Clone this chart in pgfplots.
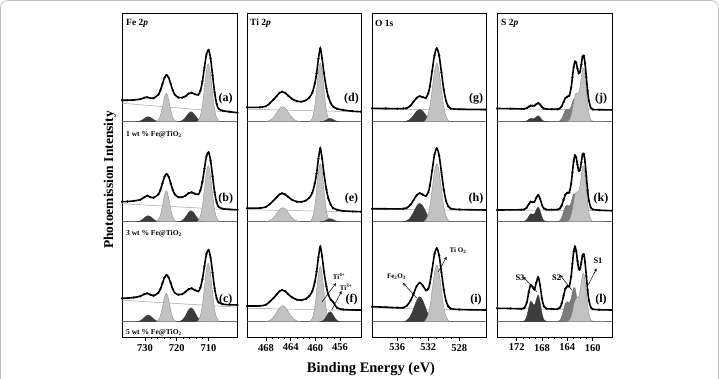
\documentclass[border=0pt]{standalone}
\usepackage{pgfplots}
\usepackage{pgfplotstable}
\pgfplotsset{compat=1.18}
\usepackage{fontspec}
\setmainfont{Liberation Serif}

\definecolor{lgray}{HTML}{C2C2C2}
\definecolor{dgray}{HTML}{3C3C3C}
\definecolor{mgray}{HTML}{7C7C7C}

% ---------------- Fe 2p ----------------
\pgfplotstableread{
x a b c
732.9 0 0 0
732.25 0.22 0.26 0.29
731.6 0.68 0.81 0.91
730.95 1.62 1.95 2.18
730.3 3.03 3.64 4.06
729.65 4.41 5.30 5.91
729.0 5 6 6.7
728.35 4.41 5.30 5.91
727.7 3.03 3.64 4.06
727.05 1.62 1.95 2.18
726.4 0.68 0.81 0.91
725.75 0.22 0.26 0.29
725.1 0 0 0
}\FeDone
\pgfplotstableread{
x a b c
726.45 0 0 0
725.925 1.25 1.36 1.25
725.4 3.86 4.19 3.84
724.875 9.25 10.07 9.22
724.35 17.29 18.80 17.22
723.825 25.15 27.36 25.06
723.3 28.5 31 28.4
722.775 25.15 27.36 25.06
722.25 17.29 18.80 17.22
721.725 9.25 10.07 9.22
721.2 3.86 4.19 3.84
720.675 1.25 1.36 1.25
720.15 0 0 0
}\FeGone
\pgfplotstableread{
x a b c
719.55 0 0 0
718.875 0.44 0.48 0.61
718.2 1.35 1.49 1.89
717.525 3.25 3.57 4.55
716.85 6.07 6.67 8.49
716.175 8.83 9.71 12.36
715.5 10 11 14
714.825 8.83 9.71 12.36
714.15 6.07 6.67 8.49
713.475 3.25 3.57 4.55
712.8 1.35 1.49 1.89
712.125 0.44 0.48 0.61
711.45 0 0 0
}\FeDtwo
\pgfplotstableread{
x a b c
713.55 0 0 0
712.975 2.55 2.46 2.56
712.4 7.85 7.58 7.90
711.825 18.83 18.18 18.96
711.25 35.18 33.96 35.42
710.675 51.19 49.42 51.54
710.1 58 56 58.4
709.525 51.19 49.42 51.54
708.95 35.18 33.96 35.42
708.375 18.83 18.18 18.96
707.8 7.85 7.58 7.90
707.225 2.55 2.46 2.56
706.65 0 0 0
}\FeGtwo
\pgfplotstableread{
x a b c
737.24 21.5 20 23.4
735.5 21.5 20.2 23.6
733.5 21.8 20.8 24.2
731.5 22.5 22 25.5
730.2 24 24.5 27.6
729.3 24.5 26 28.4
728.3 23.5 24.5 27
727.3 23.5 24 26
725.8 27.1 27.4 28.8
725.15 31.4 31.8 32.6
724.5 37.8 38.4 38.6
723.85 44 44.9 44.2
723.2 46.7 47.7 46.7
722.55 44 44.9 44.2
721.9 37.8 38.4 38.6
721.25 31.4 31.8 32.6
720.6 27.1 27.4 28.8
719.5 24.2 24.5 27
718.3 24 24.5 27.5
717.2 25.5 26 30
716.3 28 28.5 32.5
715.3 29 29.4 33.4
714.3 27.5 28 31.5
713.2 27 27.5 30.5
712.56 31 31.5 34
711.92 40.4 40 42.5
711.28 54.4 53 55.5
710.64 67.5 65.5 67.8
710.0 71.7 69.4 71.7
709.36 63.5 61.5 64.5
708.72 46.4 45.5 49
708.08 29.4 29.5 33.5
707.44 17.9 19.5 23.5
706.8 12.8 14.8 19.3
705.5 11 13 17.5
703.5 10 12.3 17
700.87 9 12 16.7
}\FeEnv
\pgfplotstableread{
x a b c
737.24 18.5 18 21.5
700.87 8.8 11.5 14.5
}\FeBg

% ---------------- Ti 2p ----------------
\pgfplotstableread{
x a b c
468.15 0 0 0
467.675 0.66 0.61 0.70
467.2 2.03 1.89 2.16
466.725 4.87 4.55 5.20
466.25 9.10 8.49 9.70
465.775 13.24 12.36 14.12
465.3 15 14 16
464.825 13.24 12.36 14.12
464.35 9.10 8.49 9.70
463.875 4.87 4.55 5.20
463.4 2.03 1.89 2.16
462.925 0.66 0.61 0.70
462.45 0 0 0
}\TiGa
\pgfplotstableread{
x a b c
460.85 0 0 0
460.575 2.56 2.55 2.41
460.3 7.90 7.85 7.44
460.025 18.96 18.83 17.86
459.75 35.42 35.18 33.36
459.475 51.54 51.19 48.54
459.2 58.4 58 55
458.925 51.54 51.19 48.54
458.65 35.42 35.18 33.36
458.375 18.96 18.83 17.86
458.1 7.90 7.85 7.44
457.825 2.56 2.55 2.41
457.55 0 0 0
}\TiGb
\pgfplotstableread{
x a b c
459.25 0 0 0
458.975 0.14 0.13 0.44
458.7 0.45 0.41 1.35
458.425 1.07 0.97 3.25
458.15 2.0 1.82 6.07
457.875 2.91 2.65 8.83
457.6 3.3 3 10
457.325 2.91 2.65 8.83
457.05 2.0 1.82 6.07
456.775 1.07 0.97 3.25
456.5 0.45 0.41 1.35
456.225 0.14 0.13 0.44
455.95 0 0 0
}\TiD
\pgfplotstableread{
x a b c
471.08 14.4 13.4 15.7
469 14.4 13.6 15.8
468 15.5 14.8 17
467.4 18.4 17.5 20
466.8 22 21 23.5
466.3 25.5 24.3 27
465.8 28.8 27.3 30.5
465.4 30 28.4 31.7
464.9 28.8 27.3 30.5
464.4 26 24.8 27.5
463.8 23 22 24.5
463 20.5 20 22
462.3 20 19.8 21.5
461.5 21.5 21.3 23
461 24 23.8 25.5
460.5 29 28.8 30.5
460.1 38 38 39.5
459.8 48.4 48.4 50
459.5 63 63 64.5
459.2 73.4 73.4 75
458.9 63 63 65
458.6 48.4 48 50
458.2 33 32 35
457.9 25 23.5 27
457.5 18.5 17 22.3
457.1 15 13.5 19.5
456.5 13 12 14
455.5 11.7 10.8 12.2
454 10.5 10.3 11.8
452.6 10 10 11.7
}\TiEnv
\pgfplotstableread{
x a b c
471.08 12.5 12 13.5
452.6 9.8 9.8 11
}\TiBg

% ---------------- O 1s ----------------
\pgfplotstableread{
x a b c
532.55 0 0 0
532.275 2.56 2.55 2.49
532.0 7.90 7.85 7.67
531.725 18.96 18.83 18.41
531.45 35.42 35.18 34.39
531.175 51.54 51.19 50.04
530.9 58.4 58 56.7
530.625 51.54 51.19 50.04
530.35 35.42 35.18 34.39
530.075 18.96 18.83 18.41
529.8 7.90 7.85 7.67
529.525 2.56 2.55 2.49
529.25 0 0 0
}\OMain
\pgfplotstableread{
x a b c
535.2 0 0 0
534.85 0.54 0.81 1.10
534.5 1.68 2.49 3.38
534.15 4.03 5.97 8.12
533.8 7.52 11.16 15.16
533.45 10.94 16.24 22.06
533.1 12.4 18.4 25
532.75 10.94 16.24 22.06
532.4 7.52 11.16 15.16
532.05 4.03 5.97 8.12
531.7 1.68 2.49 3.38
531.35 0.54 0.81 1.10
531.0 0 0 0
}\ODark
\pgfplotstableread{
x a b c
539.26 13.4 13 15
537.5 13.2 12.9 14.5
536 13 12.8 14
535.2 13.2 13 14
534.8 13.5 13.7 15.7
534.3 16.1 16.9 20.9
533.9 19.9 21.6 27.9
533.5 23.8 26.4 35.5
533.1 25.5 28.5 38.9
532.7 24.5 27.1 36.2
532.3 23.9 25.6 31.3
532.0 28.4 29.4 33
531.8 35.1 35.9 38.3
531.5 50.7 51.1 52.4
531.2 66.5 66.9 67.6
530.9 73.4 73.4 73.4
530.6 66.2 66.2 66.2
530.3 49.4 49.4 49.4
530.0 32.2 32.2 32.2
529.7 20.7 20.7 20.7
529.4 15.1 15.1 15.1
529.1 13.1 13.1 13.1
528 12.5 12.2 12.2
524.55 12.2 11.7 11.7
}\OEnv
\pgfplotstableread{
x a b c
539.26 12.5 12.5 13.8
524.55 11.5 11.2 11.2
}\OBg

% ---------------- S 2p ----------------
\pgfplotstableread{
x a b c
171.5 0 0 0
170.8 0.11 0.25 0.65
170.4 0.88 2.08 5.4
170.1 2.25 5.33 13.8
169.8 3.33 7.90 20.3
169.5 3.19 7.59 18.7
169.2 3.2 7.78 16.4
168.9 4.8 11.84 22.1
168.6 5.95 14.72 26.8
168.3 4.45 11.02 20.0
168.0 1.92 4.75 8.6
167.7 0.47 1.17 2.1
167.3 0.03 0.07 0.14
167.0 0 0 0
}\SDark
\pgfplotstableread{
x a b c
166.0 0 0 0
165.6 0.07 0.09 0.11
165.2 0.79 1.05 1.27
164.9 2.99 3.98 4.81
164.6 7.28 9.71 11.72
164.3 11.53 15.36 18.53
164.0 12.49 16.55 19.99
163.7 11.94 15.48 18.79
163.4 15.19 19.10 23.33
163.2 19.40 24.16 29.55
163.0 22.51 27.93 34.20
162.8 22.18 27.50 33.67
162.6 18.13 22.47 27.52
162.4 12.20 15.12 18.52
162.2 6.73 8.34 10.22
162.0 3.05 3.78 4.63
161.8 1.14 1.41 1.73
161.6 0.35 0.43 0.53
161.4 0.09 0.11 0.13
161.1 0 0 0
}\SMed
\pgfplotstableread{
x a b c
164.3 0 0 0
164.0 0.30 0.31 0.24
163.7 1.76 1.82 1.45
163.4 6.65 6.90 5.48
163.2 12.66 13.13 10.43
163.0 19.87 20.62 16.39
162.8 25.85 26.82 21.34
162.6 28.57 29.64 23.70
162.4 28.65 29.73 24.03
162.2 29.51 30.63 25.30
162.0 34.71 36.06 30.49
161.8 43.95 45.66 39.17
161.6 52.28 54.32 46.86
161.4 53.64 55.75 48.17
161.2 45.91 47.72 41.26
161.0 32.41 33.69 29.14
160.8 18.80 19.54 16.90
160.6 8.97 9.32 8.06
160.3 2.03 2.11 1.83
160.0 0.6 0.6 0.6
159.5 0.4 0.4 0.5
158.5 0.15 0.15 0.2
158.0 0 0 0
}\SLight
\pgfplotstableread{
x a b c
175.1 13.2 11.7 13.4
173 13 11.8 13.2
171.2 12.8 12 12.9
170.8 12.9 12.25 13.6
170.4 13.6 14.1 19.2
170.1 14.95 17.3 29.1
169.8 16.0 19.9 36.75
169.5 15.9 19.6 34.9
169.2 15.9 19.8 32.2
168.9 17.5 23.8 38.9
168.6 18.65 26.7 44.4
168.3 17.15 23.0 36.4
168.0 14.6 16.75 23.0
167.7 13.15 13.2 15.4
167.3 12.7 12.1 13.0
166.5 12.5 12 12.8
165.6 12.4 12.1 12.6
165.2 13.1 13.05 13.9
164.9 15.3 16.0 17.9
164.6 19.6 21.7 25.8
164.3 23.65 27.1 33.2
164.0 25.0 28.9 35.45
163.7 25.9 29.3 35.45
163.4 34.0 38.0 45.2
163.2 44.3 49.3 57.9
163.0 54.6 60.5 69.9
162.8 60.2 66.3 75.0
162.6 58.9 64.1 70.6
162.4 53.0 56.9 60.8
162.2 48.4 51.0 52.8
162.0 49.9 51.8 52.35
161.8 57.2 59.1 58.9
161.6 64.8 66.75 66.3
161.4 65.9 67.9 67.35
161.2 58.0 59.7 59.3
161.0 44.5 45.7 45.5
160.8 30.9 31.5 31.6
160.6 21.0 21.3 21.5
160.3 14.0 14.1 14.4
160.0 12.3 12.3 12.6
159 12 11.5 12
156.95 11.8 11 11.7
}\SEnv
\pgfplotstableread{
x a b c
175.1 13 11.8 13.2
156.95 11.6 11 11.5
}\SBg

\pgfplotsset{
  xps/.style={scale only axis, height=324pt, ymin=0, ymax=324, x dir=reverse,
    ytick=\empty, xtick pos=bottom, tick align=outside,
    major tick length=3.5pt, minor tick length=2pt,
    axis line style={line width=0.8pt},
    every tick/.append style={black, line width=0.6pt},
    tick label style={font=\fontsize{10.5}{12}\selectfont\bfseries},
    /pgf/number format/assume math mode=true,
    anchor=south west},
  env/.style={black, line width=1.6pt, smooth, mark=*, mark size=1.0pt,
    mark options={line width=0.2pt, fill=black}},
  lc/.style={fill=lgray, draw=gray, line width=0.3pt, smooth},
  dc/.style={fill=dgray, draw=dgray, line width=0.3pt, smooth},
  mc/.style={fill=mgray, draw=mgray!80!black, line width=0.3pt, smooth},
  bgl/.style={gray!75, line width=0.5pt},
  basel/.style={black!60, line width=0.7pt},
  o1/.style={yshift=215.3pt}, o2/.style={yshift=115.3pt}, o3/.style={yshift=15.3pt},
}

\begin{document}
\begin{tikzpicture}[x=1pt,y=1pt]
\useasboundingbox (0,0) rectangle (719,378);
\draw[gray!50, line width=0.7pt, rounded corners=7pt] (0.5,-20) -- (0.5,377.4) -- (718.4,377.4) -- (718.4,-20);

% ===== Fe =====
\begin{axis}[xps, at={(122pt,41pt)}, width=115.5pt, xmin=700.87, xmax=737.24,
  xtick={710,720,730}, minor x tick num=4]
\addplot[basel,o1] coordinates {(760,0) (690,0)};
\addplot[basel,o2] coordinates {(760,0) (690,0)};
\addplot[basel,o3] coordinates {(760,0) (690,0)};
\addplot[bgl,o1] table[x=x,y=a] {\FeBg};
\addplot[bgl,o2] table[x=x,y=b] {\FeBg};
\addplot[bgl,o3] table[x=x,y=c] {\FeBg};
\addplot[dc,o1] table[x=x,y=a] {\FeDone} \closedcycle;
\addplot[dc,o2] table[x=x,y=b] {\FeDone} \closedcycle;
\addplot[dc,o3] table[x=x,y=c] {\FeDone} \closedcycle;
\addplot[lc,o1] table[x=x,y=a] {\FeGone} \closedcycle;
\addplot[lc,o2] table[x=x,y=b] {\FeGone} \closedcycle;
\addplot[lc,o3] table[x=x,y=c] {\FeGone} \closedcycle;
\addplot[dc,o1] table[x=x,y=a] {\FeDtwo} \closedcycle;
\addplot[dc,o2] table[x=x,y=b] {\FeDtwo} \closedcycle;
\addplot[dc,o3] table[x=x,y=c] {\FeDtwo} \closedcycle;
\addplot[lc,o1] table[x=x,y=a] {\FeGtwo} \closedcycle;
\addplot[lc,o2] table[x=x,y=b] {\FeGtwo} \closedcycle;
\addplot[lc,o3] table[x=x,y=c] {\FeGtwo} \closedcycle;
\addplot[env,o1] table[x=x,y=a] {\FeEnv};
\addplot[env,o2] table[x=x,y=b] {\FeEnv};
\addplot[env,o3] table[x=x,y=c] {\FeEnv};
\end{axis}

% ===== Ti =====
\begin{axis}[xps, at={(247pt,41pt)}, width=114pt, xmin=452.6, xmax=471.08,
  xtick={456,460,464,468}, minor x tick num=3]
\addplot[basel,o1] coordinates {(480,0) (440,0)};
\addplot[basel,o2] coordinates {(480,0) (440,0)};
\addplot[basel,o3] coordinates {(480,0) (440,0)};
\addplot[bgl,o1] table[x=x,y=a] {\TiBg};
\addplot[bgl,o2] table[x=x,y=b] {\TiBg};
\addplot[bgl,o3] table[x=x,y=c] {\TiBg};
\addplot[lc,o1] table[x=x,y=a] {\TiGa} \closedcycle;
\addplot[lc,o2] table[x=x,y=b] {\TiGa} \closedcycle;
\addplot[lc,o3] table[x=x,y=c] {\TiGa} \closedcycle;
\addplot[lc,o1] table[x=x,y=a] {\TiGb} \closedcycle;
\addplot[lc,o2] table[x=x,y=b] {\TiGb} \closedcycle;
\addplot[lc,o3] table[x=x,y=c] {\TiGb} \closedcycle;
\addplot[dc,o1] table[x=x,y=a] {\TiD} \closedcycle;
\addplot[dc,o2] table[x=x,y=b] {\TiD} \closedcycle;
\addplot[dc,o3] table[x=x,y=c] {\TiD} \closedcycle;
\addplot[env,o1] table[x=x,y=a] {\TiEnv};
\addplot[env,o2] table[x=x,y=b] {\TiEnv};
\addplot[env,o3] table[x=x,y=c] {\TiEnv};
\end{axis}

% ===== O =====
\begin{axis}[xps, at={(372pt,41pt)}, width=114pt, xmin=524.55, xmax=539.26,
  xtick={528,532,536}, minor x tick num=3]
\addplot[basel,o1] coordinates {(545,0) (520,0)};
\addplot[basel,o2] coordinates {(545,0) (520,0)};
\addplot[basel,o3] coordinates {(545,0) (520,0)};
\addplot[bgl,o1] table[x=x,y=a] {\OBg};
\addplot[bgl,o2] table[x=x,y=b] {\OBg};
\addplot[bgl,o3] table[x=x,y=c] {\OBg};
\addplot[dc,o1] table[x=x,y=a] {\ODark} \closedcycle;
\addplot[dc,o2] table[x=x,y=b] {\ODark} \closedcycle;
\addplot[dc,o3] table[x=x,y=c] {\ODark} \closedcycle;
\addplot[lc,o1] table[x=x,y=a] {\OMain} \closedcycle;
\addplot[lc,o2] table[x=x,y=b] {\OMain} \closedcycle;
\addplot[lc,o3] table[x=x,y=c] {\OMain} \closedcycle;
\addplot[env,o1] table[x=x,y=a] {\OEnv};
\addplot[env,o2] table[x=x,y=b] {\OEnv};
\addplot[env,o3] table[x=x,y=c] {\OEnv};
\end{axis}

% ===== S =====
\begin{axis}[xps, at={(497pt,41pt)}, width=115pt, xmin=156.95, xmax=175.1,
  xtick={160,164,168,172}, minor x tick num=3]
\addplot[basel,o1] coordinates {(180,0) (150,0)};
\addplot[basel,o2] coordinates {(180,0) (150,0)};
\addplot[basel,o3] coordinates {(180,0) (150,0)};
\addplot[bgl,o1] table[x=x,y=a] {\SBg};
\addplot[bgl,o2] table[x=x,y=b] {\SBg};
\addplot[bgl,o3] table[x=x,y=c] {\SBg};
\addplot[dc,o1] table[x=x,y=a] {\SDark} \closedcycle;
\addplot[dc,o2] table[x=x,y=b] {\SDark} \closedcycle;
\addplot[dc,o3] table[x=x,y=c] {\SDark} \closedcycle;
\addplot[mc,o1] table[x=x,y=a] {\SMed} \closedcycle;
\addplot[mc,o2] table[x=x,y=b] {\SMed} \closedcycle;
\addplot[mc,o3] table[x=x,y=c] {\SMed} \closedcycle;
\addplot[lc,o1] table[x=x,y=a] {\SLight} \closedcycle;
\addplot[lc,o2] table[x=x,y=b] {\SLight} \closedcycle;
\addplot[lc,o3] table[x=x,y=c] {\SLight} \closedcycle;
\addplot[env,o1] table[x=x,y=a] {\SEnv};
\addplot[env,o2] table[x=x,y=b] {\SEnv};
\addplot[env,o3] table[x=x,y=c] {\SEnv};
\end{axis}

% ===== texts =====
\node[rotate=90, font=\fontsize{13.5}{15}\selectfont\bfseries] at (110,198) {Photoemission Intensity};
\node[font=\fontsize{14.5}{16}\selectfont\bfseries] at (371,9) {Binding Energy (eV)};

\begin{scope}[every node/.style={anchor=west, font=\fontsize{9.5}{11}\selectfont\bfseries, inner sep=0pt}]
\node at (126,354.5) {Fe 2\textit{p}};
\node at (250,354.5) {Ti 2\textit{p}};
\node at (375,354.5) {O 1s};
\node at (501,354.5) {S 2\textit{p}};
\end{scope}

\begin{scope}[every node/.style={anchor=west, font=\fontsize{7.5}{9}\selectfont\bfseries, inner sep=0pt}]
\node at (126,243.5) {1 wt \% Fe@TiO\textsubscript{2}};
\node at (126,144.5) {3 wt \% Fe@TiO\textsubscript{2}};
\node at (126,45.5) {5 wt \% Fe@TiO\textsubscript{2}};
\end{scope}

\begin{scope}[every node/.style={font=\fontsize{12}{14}\selectfont\bfseries, inner sep=0pt}]
\node at (225.7,279.3) {(a)};
\node at (225.7,179.5) {(b)};
\node at (225.7,78.5) {(c)};
\node at (351.5,279.3) {(d)};
\node at (351.5,179.5) {(e)};
\node at (351.5,78.5) {(f)};
\node at (476,279.3) {(g)};
\node at (476,179.5) {(h)};
\node at (476,78.5) {(i)};
\node at (601,279.3) {(j)};
\node at (601,179.5) {(k)};
\node at (601,78.5) {(l)};
\end{scope}

\begin{scope}[every node/.style={font=\fontsize{7}{8}\selectfont\bfseries, inner sep=0pt}]
\node at (339,102) {Ti\textsuperscript{4+}};
\node at (346,91) {Ti\textsuperscript{3+}};
\node at (396.5,101.5) {Fe\textsubscript{2}O\textsubscript{3}};
\node at (458,127) {Ti O\textsubscript{2}};
\end{scope}
\begin{scope}[every node/.style={font=\fontsize{8.5}{10}\selectfont\bfseries, inner sep=0pt}]
\node at (520,100.5) {S3};
\node at (556.7,100.5) {S2};
\node at (598,117) {S1};
\end{scope}
\draw[line width=0.5pt, ->, >=stealth] (322,76) -- (336,95);
\draw[line width=0.5pt, ->, >=stealth] (331.7,68) -- (341.7,87);
\draw[line width=0.5pt, ->, >=stealth] (416.7,80) -- (403,95);
\draw[line width=0.5pt, ->, >=stealth] (438.3,106.3) -- (446.7,121.3);
\draw[line width=0.5pt, ->, >=stealth] (536.7,86.3) -- (523.3,101.3);
\draw[line width=0.5pt, ->, >=stealth] (571.7,88) -- (560,103);
\draw[line width=0.5pt, ->, >=stealth] (588.3,93) -- (596.7,109.7);
\end{tikzpicture}
\end{document}
